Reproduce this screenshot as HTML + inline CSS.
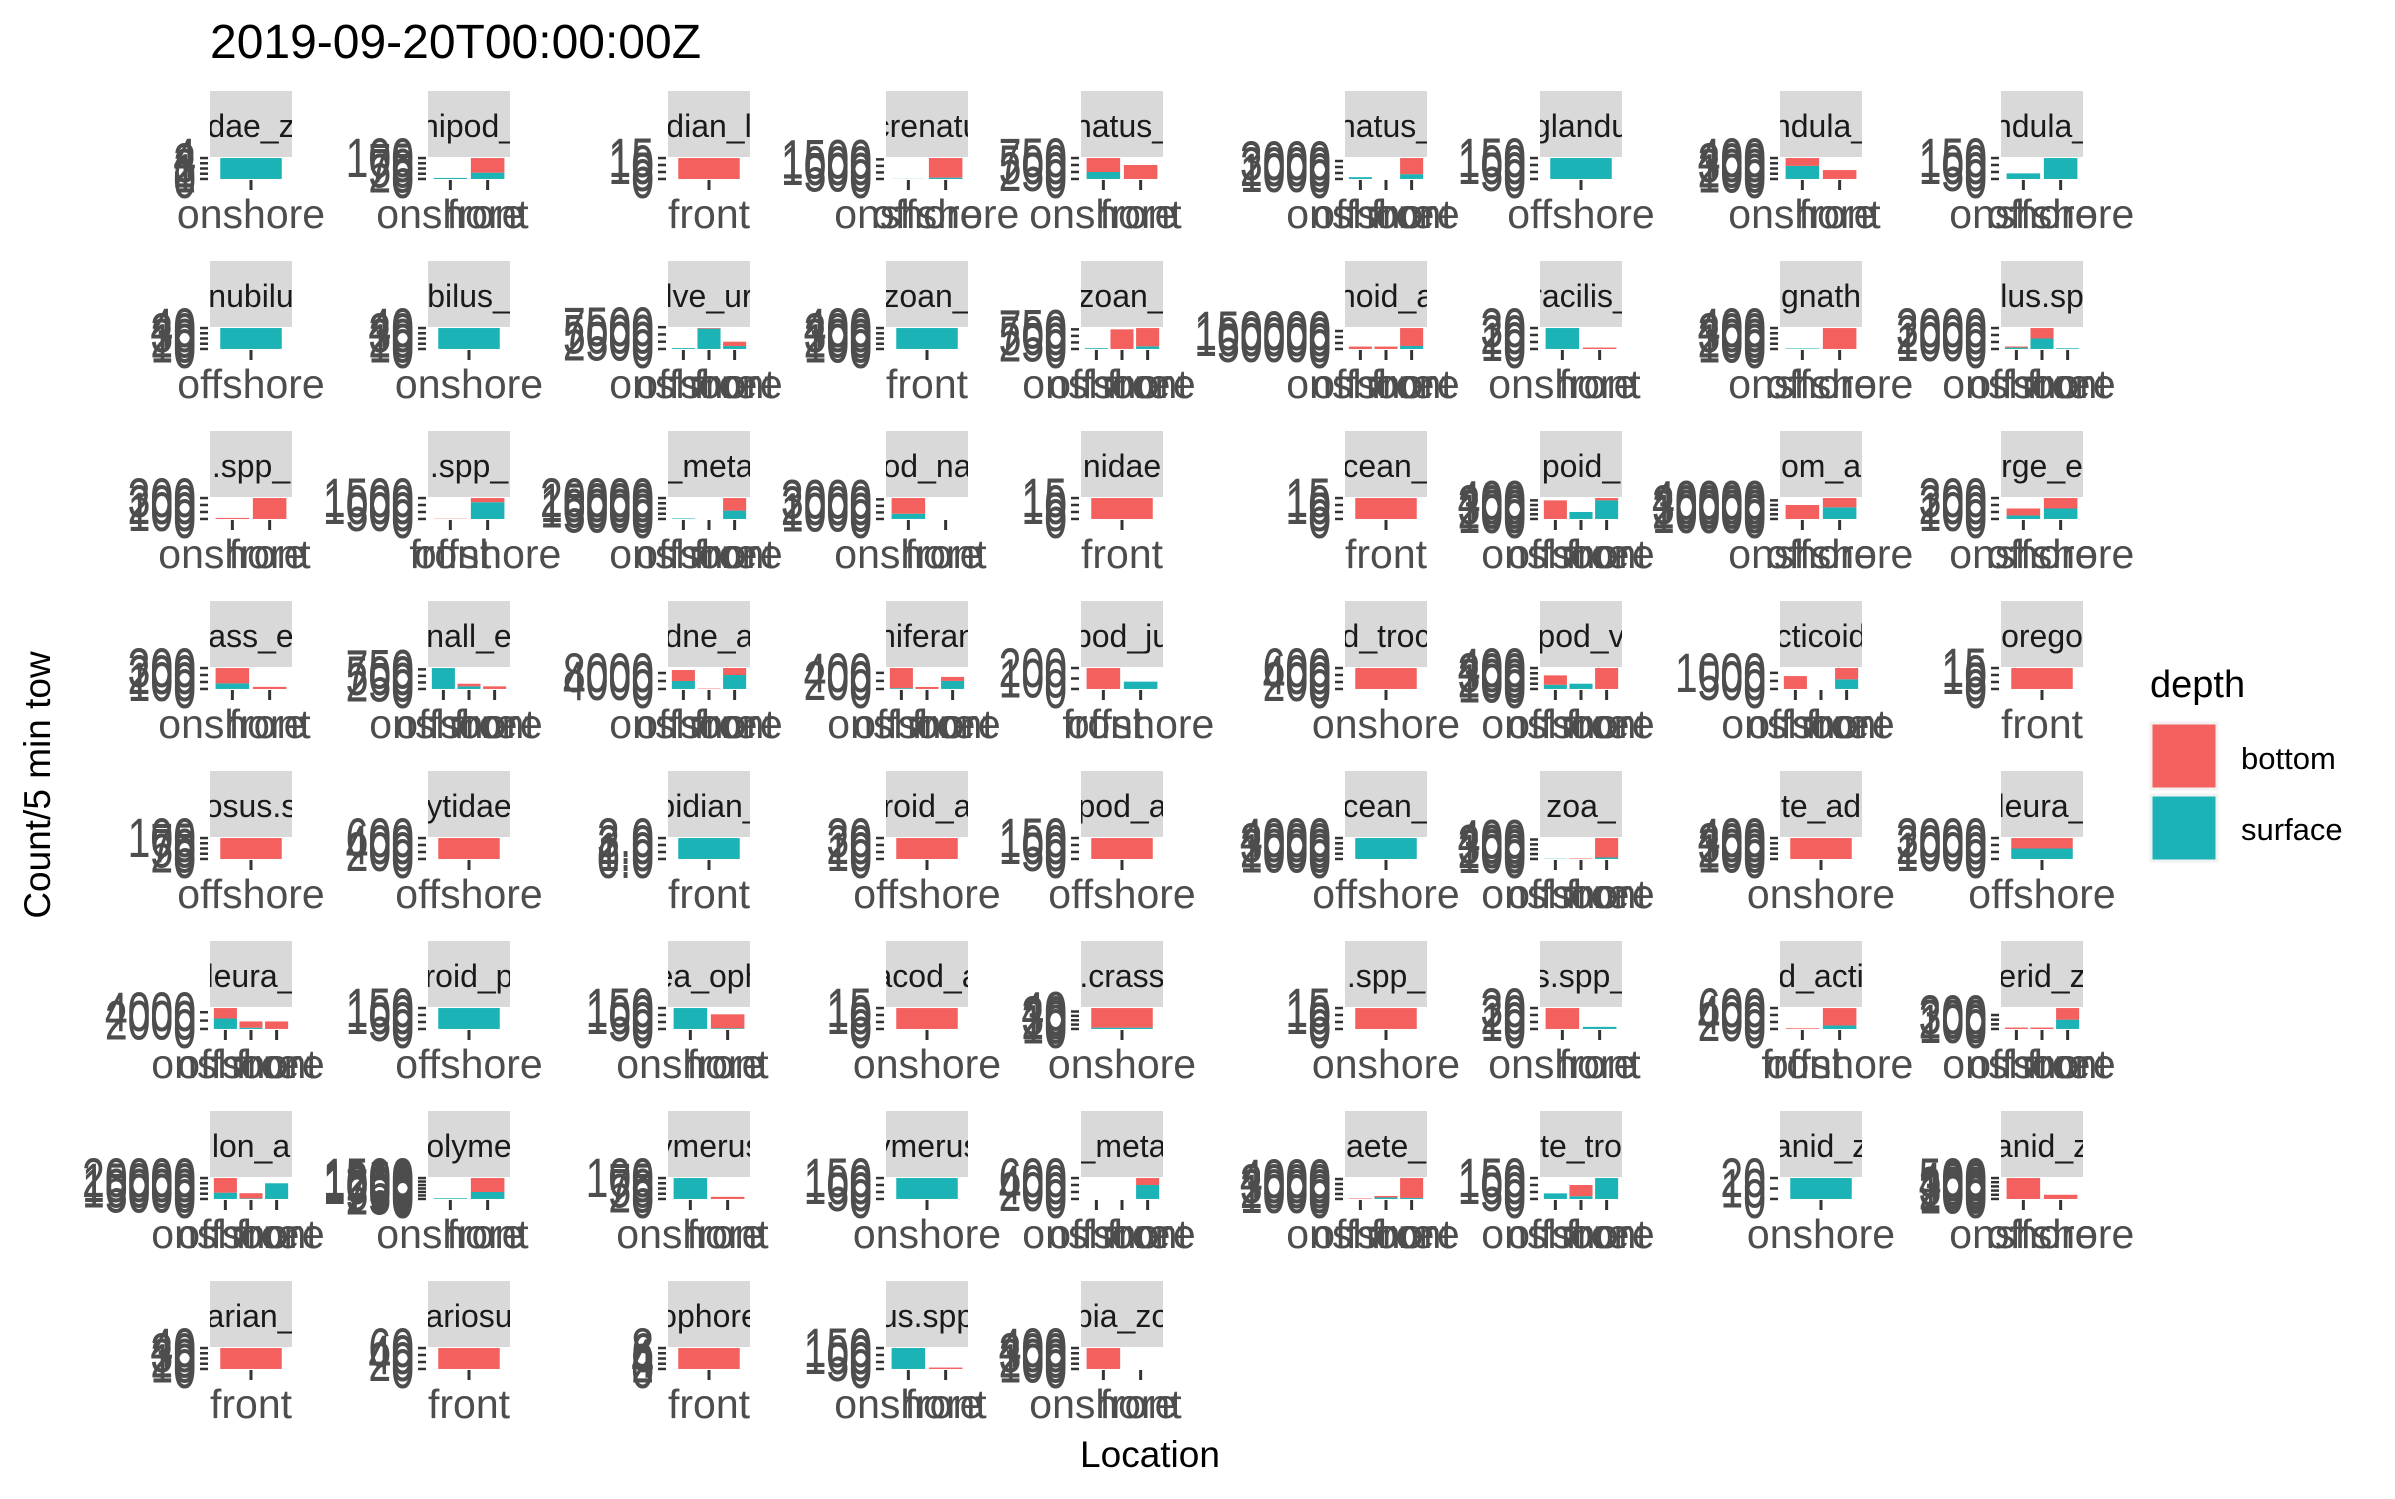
<!DOCTYPE html>
<html><head><meta charset="utf-8"><style>
html,body{margin:0;padding:0;background:#fff;}
svg{display:block;font-family:"Liberation Sans",Arial,sans-serif;}
</style></head><body>
<svg id="chart" width="2395" height="1499" viewBox="0 0 2395 1499" xmlns="http://www.w3.org/2000/svg">
<rect x="0" y="0" width="2395" height="1499" fill="#fff"/>
<text x="210" y="58" font-size="48" fill="#000">2019-09-20T00:00:00Z</text>
<text transform="translate(50,785) rotate(-90)" text-anchor="middle" font-size="37" fill="#000">Count/5 min tow</text>
<text x="1150" y="1467" text-anchor="middle" font-size="37" fill="#000">Location</text>
<g>
<text x="2150" y="697" font-size="38" fill="#000">depth</text>
<rect x="2151" y="723" width="66" height="66" fill="#F3605D" stroke="#f2f2f2" stroke-width="3"/>
<rect x="2151" y="795" width="66" height="66" fill="#1BB3B5" stroke="#f2f2f2" stroke-width="3"/>
<text x="2241" y="769" font-size="31" fill="#000">bottom</text>
<text x="2241" y="840" font-size="31" fill="#000">surface</text>
</g>
<g id="panels"></g>
</svg>
<script>
const panelNames = [
"dae_z","nipod_","dian_l","crenatu","natus_","natus_","glandu","ndula_","ndula_",
"nubilu","bilus_","lve_ur","zoan_","zoan_","noid_a","racilis_","gnath","lus.sp",
".spp_",".spp_","_meta","od_na","nidae","cean_","poid_","om_a","rge_e",
"ass_e","nall_e","dne_a","niferan","pod_ju","d_troc","pod_v","cticoid","orego",
"osus.s","ytidae","bidian_","roid_a","pod_a","cean_","zoa_","te_ad","leura_",
"leura_","roid_p","ea_oph","acod_a",".crass",".spp_","s.spp_","d_acti","erid_z",
"lon_a","olyme","ymerus","ymerus","_meta","aete_","te_tro","anid_z","anid_z",
"arian_","ariosu","ophore","us.spp","bia_zo"];
const panelCats = [
["onshore"],["onshore","front"],["front"],["onshore","offshore"],["onshore","front"],["onshore","offshore","front"],["offshore"],["onshore","front"],["onshore","offshore"],
["offshore"],["onshore"],["onshore","offshore","front"],["front"],["onshore","offshore","front"],["onshore","offshore","front"],["onshore","front"],["onshore","offshore"],["onshore","offshore","front"],
["onshore","front"],["front","offshore"],["onshore","offshore","front"],["onshore","front"],["front"],["front"],["onshore","offshore","front"],["onshore","offshore"],["onshore","offshore"],
["onshore","front"],["onshore","offshore","front"],["onshore","offshore","front"],["onshore","offshore","front"],["front","offshore"],["onshore"],["onshore","offshore","front"],["onshore","offshore","front"],["front"],
["offshore"],["offshore"],["front"],["offshore"],["offshore"],["offshore"],["onshore","offshore","front"],["onshore"],["offshore"],
["onshore","offshore","front"],["offshore"],["onshore","front"],["onshore"],["onshore"],["onshore"],["onshore","front"],["front","offshore"],["onshore","offshore","front"],
["onshore","offshore","front"],["onshore","front"],["onshore","front"],["onshore"],["onshore","offshore","front"],["onshore","offshore","front"],["onshore","offshore","front"],["onshore"],["onshore","offshore"],
["front"],["front"],["front"],["onshore","front"],["onshore","front"]];
const surfaceVals = [
[4],[5,30],[0],[10,100],[250,0],[300,0,800],[150],[250,0],[40,150],
[40],[40],[300,7000,1000],[400],[30,0,100],[0,0,25000],[30,0],[10,0],[200,1500,100],
[0,0],[0,1200],[500,0,8000],[800,0],[0],[0],[0,150,400],[0,25000],[50,150],
[80,0],[800,100,0],[4000,0,7000],[20,0,200],[0,70],[0],[80,100,0],[0,0,600],[0],
[0],[0],[3],[0],[0],[4000],[5,0,30],[0],[1500],
[2500,300,0],[150],[150,5],[0],[3],[0],[0,3],[0,100],[0,0,200],
[6000,500,15000],[50,500],[100,0],[150],[0,0,400],[0,300,200],[40,20,150],[20],[0,0],
[0],[0],[0],[150,0],[0,0]];
const bottomVals = [
[0],[0,70],[15],[0,1500],[500,500],[0,0,2700],[0],[150,170],[0,0],
[0],[0],[0,200,1500],[0],[0,750,700],[20000,20000,150000],[0,2],[0,400],[150,1500,0],
[15,300],[20,300],[0,0,12000],[2400,0],[15],[15],[400,0,50],[30000,20000],[100,150],
[220,30],[0,100,100],[5500,200,3500],[500,50,100],[200,0],[600],[180,0,400],[800,0,700],[15],
[100],[600],[0],[30],[150],[0],[0,10,400],[400],[1500],
[2500,1500,1800],[0],[0,100],[15],[45],[15],[30,0],[20,500],[30,30,250],
[14000,5000,0],[0,1000],[0,10],[0],[0,0,200],[100,300,4000],[0,80,0],[0],[500,100],
[40],[60],[8],[0,10],[400,0]];
const tickVals = [
[0,1,2,3,4],[0,25,50,75,100],[0,5,10,15],[0,500,1000,1500],[0,250,500,750],[0,1000,2000,3000],[0,50,100,150],[0,100,200,300,400],[0,50,100,150],
[0,10,20,30,40],[0,10,20,30,40],[0,2500,5000,7500],[0,100,200,300,400],[0,250,500,750],[0,50000,100000,150000],[0,10,20,30],[0,100,200,300,400],[0,1000,2000,3000],
[0,100,200,300],[0,500,1000,1500],[0,5000,10000,15000,20000],[0,1000,2000,3000],[0,5,10,15],[0,5,10,15],[0,100,200,300,400],[0,10000,20000,30000,40000],[0,100,200,300],
[0,100,200,300],[0,250,500,750],[0,4000,8000,12000],[0,200,400,600],[0,100,200],[0,200,400,600],[0,100,200,300,400],[0,500,1000,1500],[0,5,10,15],
[0,25,50,75,100],[0,200,400,600],[0.0,1.0,2.0,3.0],[0,10,20,30],[0,50,100,150],[0,1000,2000,3000,4000],[0,100,200,300,400],[0,100,200,300,400],[0,1000,2000,3000],
[0,2000,4000],[0,50,100,150],[0,50,100,150],[0,5,10,15],[0,10,20,30,40],[0,5,10,15],[0,10,20,30],[0,200,400,600],[0,100,200,300],
[0,5000,10000,15000,20000],[0,250,500,750,1000,1250,1500],[0,25,50,75,100],[0,50,100,150],[0,200,400,600],[0,1000,2000,3000,4000],[0,50,100,150],[0,10,20],[0,100,200,300,400,500],
[0,10,20,30,40],[0,20,40,60],[0,2,4,6,8],[0,50,100,150],[0,100,200,300,400]];
const tickLabels = tickVals.map((t,i)=> i===38 ? t.map(v=>v.toFixed(1)) : t.map(v=>String(v)));

const NS="http://www.w3.org/2000/svg";
const colLefts=[210,428,668,886,1081,1345,1540,1780,2001];
const STRIP_W=82, ROW0=91, ROW_PITCH=170, STRIP_H=66, PANEL_H=23;
const RED="#F3605D", TEAL="#1BB3B5";
const root=document.getElementById('panels');
function mk(tag,attrs,parent){const e=document.createElementNS(NS,tag);for(const k in attrs)e.setAttribute(k,attrs[k]);parent.appendChild(e);return e;}

panelNames.forEach((name,i)=>{
  const r=Math.floor(i/9), c=i%9;
  const L=colLefts[c], T=ROW0+r*ROW_PITCH;
  const pTop=T+STRIP_H, pBot=pTop+PANEL_H;
  const cats=panelCats[i], n=cats.length;
  const totals=cats.map((_,k)=>surfaceVals[i][k]+bottomVals[i][k]);
  const M=Math.max(...totals, (tickVals[i][1]||1)*0.2);
  const yS=v=>pBot-PANEL_H*(v+0.05*M)/(1.1*M);
  const band=STRIP_W/(n+0.2);
  const xC=k=>L+band*(k+0.6);
  const g=mk('g',{},root);
  
  
  const clipId='clip'+i;
  const cp=mk('clipPath',{id:clipId},g);
  mk('rect',{x:L,y:T,width:STRIP_W,height:STRIP_H},cp);
  const strip=mk('rect',{x:L,y:T,width:STRIP_W,height:STRIP_H,fill:'#d9d9d9'},g);
  
  
  const st=mk('text',{x:L+STRIP_W/2,y:T+46,'text-anchor':'middle','font-size':32,fill:'#1a1a1a','clip-path':'url(#'+clipId+')'},g);
  st.textContent=name;
  
  
  tickVals[i].forEach((v,k)=>{
    if(v>1.05*M) return;
    const y=yS(v);
    const tk=mk('line',{x1:L-10,x2:L-2,y1:y,y2:y,stroke:'#333',"stroke-width":2.5},g);
    
    
    const tl=mk('text',{x:0,y:14,'text-anchor':'end','font-size':41,fill:'#4d4d4d',transform:'translate('+(L-14)+','+y+') scale(1,1.35)'},g);
    tl.textContent=tickLabels[i][k];
    
    
  });
  cats.forEach((cat,k)=>{
    const cx=xC(k), w=band*0.9;
    const s=surfaceVals[i][k], b=bottomVals[i][k];
    if(s>0){
      const br=mk('rect',{x:cx-w/2,y:yS(s),width:w,height:Math.max(yS(0)-yS(s),0),fill:TEAL},g);
      
      
    }
    if(b>0){
      const br=mk('rect',{x:cx-w/2,y:yS(s+b),width:w,height:Math.max(yS(s)-yS(s+b),0),fill:RED},g);
      
      
    }
    const xt=mk('line',{x1:cx,x2:cx,y1:pBot,y2:pBot+10,stroke:'#333','stroke-width':3},g);
    
    
    const xl=mk('text',{x:cx,y:T+137,'text-anchor':'middle','font-size':41,fill:'#4d4d4d'},g);
    xl.textContent=cat;
    
    
  });
});
</script>
</body></html>
